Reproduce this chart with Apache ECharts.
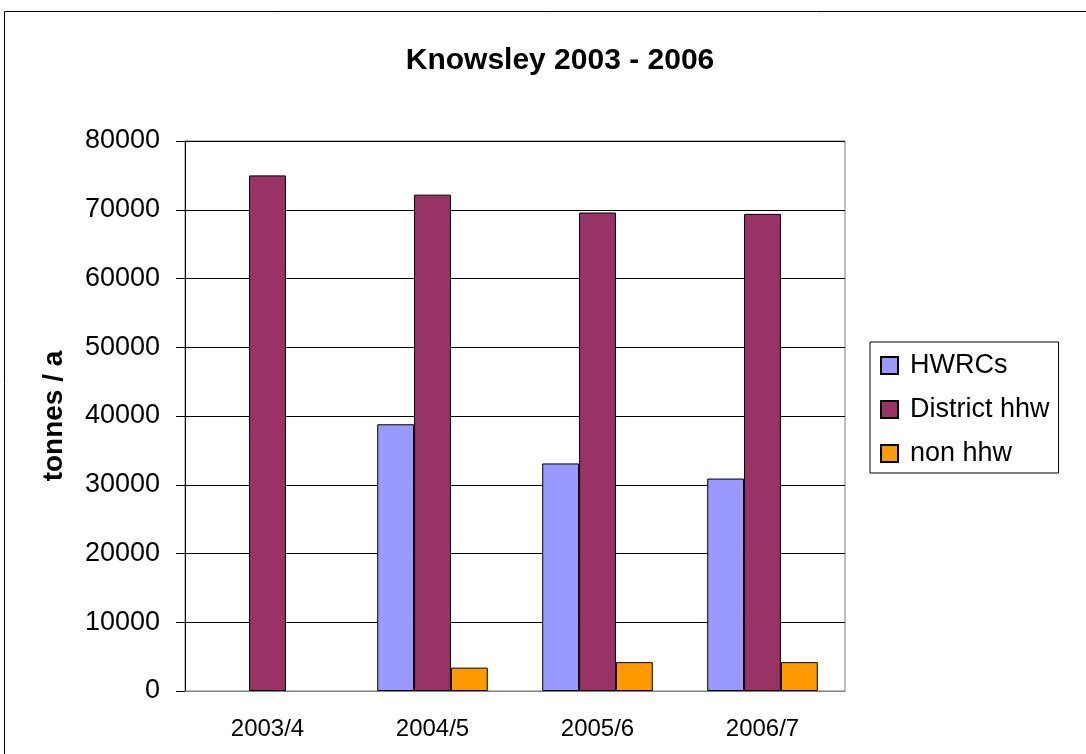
<!DOCTYPE html>
<html lang="en">
<head>
    <meta charset="UTF-8">
    <title>Knowsley 2003 - 2006</title>
    <script src="https://cdn.jsdelivr.net/npm/echarts@6/dist/echarts.min.js"></script>
    <style>
        html, body { margin: 0; padding: 0; background: #fff; }
    </style>
</head>
<body>
<div id="main" style="width: 1086px;height:754px;"></div>
<script>

    // 数据
    var years = ['2003/4', '2004/5', '2005/6', '2006/7'];
    var hwrcs = [null, 38800, 33100, 30900];
    var districtHhw = [75000, 72200, 69600, 69400];
    var nonHhw = [null, 3400, 4200, 4200];

    var myChart = echarts.init(document.getElementById('main'));
    var font = 'Liberation Sans, Arial, sans-serif';

    myChart.setOption({
        animation: false,
        backgroundColor: '#fff',
        title: {
            text: 'Knowsley 2003 - 2006',
            left: 555,
            textAlign: 'center',
            top: 41,
            textStyle: { fontSize: 30, fontWeight: 'bold', color: '#000', fontFamily: font }
        },
        graphic: [{
            type: 'rect',
            shape: { x: 4.5, y: 11.5, width: 1200, height: 800 },
            style: { fill: 'none', stroke: '#000', lineWidth: 1 }
        }],
        legend: {
            orient: 'vertical',
            left: 870,
            top: 342,
            padding: [10, 9, 6, 10],
            itemGap: 17,
            itemWidth: 17,
            itemHeight: 17,
            icon: 'rect',
            borderColor: '#000',
            borderWidth: 1,
            textStyle: { fontSize: 27, color: '#000', fontFamily: font, padding: [0, 0, 0, 7] },
            data: ['HWRCs', 'District hhw', 'non hhw']
        },
        grid: {
            left: 185, right: 241, top: 141, bottom: 63,
            show: true, borderColor: '#808080', borderWidth: 1
        },
        xAxis: {
            type: 'category',
            data: years,
            axisLine: { lineStyle: { color: '#808080' } },
            axisTick: { show: false },
            axisLabel: { fontSize: 24, color: '#000', margin: 26, fontFamily: font }
        },
        yAxis: {
            type: 'value',
            min: 0, max: 80000, interval: 10000,
            name: 'tonnes / a',
            nameLocation: 'middle',
            nameGap: 117,
            nameTextStyle: { fontSize: 28, fontWeight: 'bold', color: '#000', fontFamily: font },
            axisLine: { show: true, lineStyle: { color: '#000' } },
            axisTick: { show: true, length: 9, lineStyle: { color: '#000' } },
            axisLabel: {
                fontSize: 27, color: '#000', margin: 25, fontFamily: font,
                formatter: function (v) { return String(v); }
            },
            splitLine: { lineStyle: { color: '#000', width: 1 } }
        },
        series: [{
            name: 'HWRCs',
            type: 'bar',
            data: hwrcs,
            barGap: '0%',
            barCategoryGap: '33%',
            itemStyle: { color: '#9999FF', borderColor: '#000', borderWidth: 1 }
        }, {
            name: 'District hhw',
            type: 'bar',
            data: districtHhw,
            itemStyle: { color: '#993366', borderColor: '#000', borderWidth: 1 }
        }, {
            name: 'non hhw',
            type: 'bar',
            data: nonHhw,
            itemStyle: { color: '#FF9900', borderColor: '#000', borderWidth: 1 }
        }]
    });

</script>
</body>
</html>
